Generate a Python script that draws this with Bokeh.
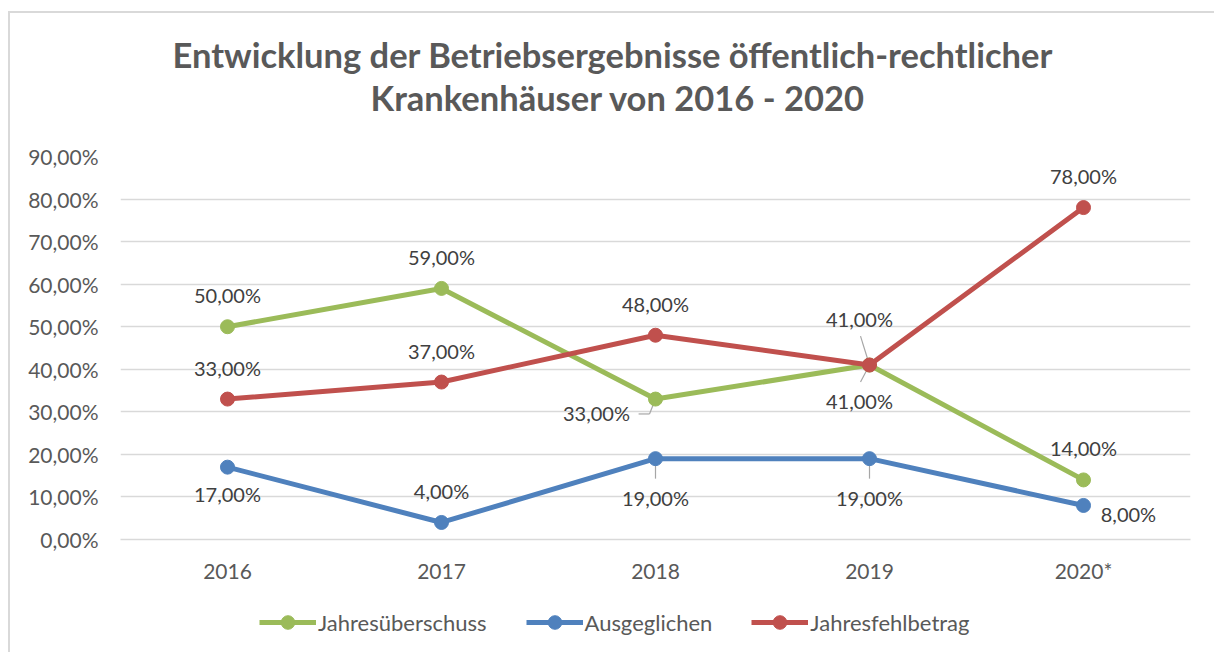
from bokeh.plotting import figure
from bokeh.models import (ColumnDataSource, FixedTicker, CustomJSTickFormatter,
                          Legend, LegendItem, Range1d, Title, Div, Spacer)
from bokeh.layouts import column, row
from bokeh.core.properties import value
from bokeh.embed import file_html
from bokeh.resources import INLINE

# ---------------- data ----------------
years = ["2016", "2017", "2018", "2019", "2020*"]
jahresueberschuss = [50, 59, 33, 41, 14]
ausgeglichen = [17, 4, 19, 19, 8]
jahresfehlbetrag = [33, 37, 48, 41, 78]
y_ticks = [0, 10, 20, 30, 40, 50, 60, 70, 80, 90]
title_line1 = "Entwicklung der Betriebsergebnisse öffentlich-rechtlicher"
title_line2 = "Krankenhäuser von 2016 - 2020"
series_names = ["Jahresüberschuss", "Ausgeglichen", "Jahresfehlbetrag"]

# ---------------- style ----------------
FONT = "Lato"
GREEN, BLUE, RED = "#9BBB59", "#4F81BD", "#C0504D"
GRID = "#d9d9d9"
TXT = "#595959"
LBL = "#404040"

lab_dx = {
    "g": [0, 0, -0.276, -0.047, 0],
    "b": [0, 0, 0, 0, 0.21],
    "r": [0, 0, 0, -0.047, 0],
}
lab_dy = {
    "g": [7.4, 7.4, -3.3, -8.5, 7.4],
    "b": [-6.4, 7.4, -9.2, -9.2, -2.0],
    "r": [7.4, 7.4, 7.4, 10.8, 7.4],
}

PW = 1204           # main figure width (placed at x=10)
PH = 587            # main figure height (placed at y=13)
LH = 52             # legend strip height
xs = [i + 0.5 for i in range(len(years))]

p = figure(width=PW, height=PH, output_backend="svg", toolbar_location=None,
           x_range=Range1d(0, len(years)), y_range=Range1d(0, 90),
           min_border_left=110, min_border_right=24, min_border_top=143,
           min_border_bottom=61, outline_line_color=None, margin=0)

# titles: spacer (closest to frame), then line 2, outermost line 1 (p.title)
p.title.text = title_line1
p.title.align = "left"
p.title.text_font = FONT
p.title.text_font_size = "34.5px"
p.title.text_font_style = "bold"
p.title.text_color = TXT
p.title.offset = 52
p.title.standoff = 0
t_sp = Title(text=" ", text_font_size="1px", standoff=36)
p.add_layout(t_sp, "above")
t2 = Title(text=title_line2, align="left", text_font=FONT, text_font_size="34.5px",
           text_font_style="bold", text_color=TXT, offset=250, standoff=0)
p.add_layout(t2, "above")

# axes
p.xaxis.ticker = FixedTicker(ticks=xs)
p.xaxis.major_label_overrides = {x: y for x, y in zip(xs, years)}
p.xaxis.major_label_text_font = FONT
p.xaxis.major_label_text_font_size = "21px"
p.xaxis.major_label_text_color = TXT
p.xaxis.axis_line_color = GRID
p.xaxis.axis_line_width = 1.5
p.xaxis.major_tick_line_color = None
p.xaxis.minor_tick_line_color = None
p.xaxis.major_tick_out = 0
p.xaxis.major_tick_in = 0
p.xaxis.major_label_standoff = 18

p.yaxis.ticker = FixedTicker(ticks=y_ticks)
p.yaxis.formatter = CustomJSTickFormatter(code="return tick.toFixed(2).replace('.', ',') + '%';")
p.yaxis.major_label_text_font = FONT
p.yaxis.major_label_text_font_size = "21px"
p.yaxis.major_label_text_color = TXT
p.yaxis.axis_line_color = None
p.yaxis.major_tick_line_color = None
p.yaxis.minor_tick_line_color = None
p.yaxis.major_tick_out = 0
p.yaxis.major_tick_in = 0
p.yaxis.major_label_standoff = 22

p.xgrid.grid_line_color = None
p.ygrid.grid_line_color = GRID
p.ygrid.grid_line_width = 1.5

# leader lines
lead_x0 = [xs[2] - 0.079, xs[2] - 0.028, xs[3] - 0.042, xs[3] - 0.042, xs[2], xs[3]]
lead_y0 = [jahresueberschuss[2] - 3.5, jahresueberschuss[2] - 3.5,
           jahresfehlbetrag[3] + 6.8, jahresueberschuss[3] - 4.0,
           ausgeglichen[2] - 4.7, ausgeglichen[3] - 4.7]
lead_x1 = [xs[2] - 0.028, xs[2], xs[3], xs[3], xs[2], xs[3]]
lead_y1 = [jahresueberschuss[2] - 3.5, jahresueberschuss[2],
           jahresfehlbetrag[3], jahresueberschuss[3],
           ausgeglichen[2], ausgeglichen[3]]
p.segment(lead_x0, lead_y0, lead_x1, lead_y1, line_color="#a6a6a6", line_width=1.2)

series = [("g", jahresueberschuss, GREEN, series_names[0]),
          ("b", ausgeglichen, BLUE, series_names[1]),
          ("r", jahresfehlbetrag, RED, series_names[2])]

sources = []
for key, vals, col, name in series:
    src = ColumnDataSource(dict(x=xs, y=vals))
    sources.append(src)
    p.line("x", "y", source=src, line_color=col, line_width=5)
    p.scatter("x", "y", source=src, marker="circle", size=14,
              fill_color=col, line_color=col)

for key, vals, col, name in series:
    lsrc = ColumnDataSource(dict(
        x=[x + d for x, d in zip(xs, lab_dx[key])],
        y=[v + d for v, d in zip(vals, lab_dy[key])],
        t=[("%.2f" % v).replace(".", ",") + "%" for v in vals]))
    p.text("x", "y", text="t", source=lsrc, text_font=value(FONT),
           text_font_size="20px", text_color=LBL, text_align="center",
           text_baseline="middle")

# legend strip (separate figure below the chart; series drawn outside its range
# so only the legend glyphs show)
lf = figure(width=PW, height=LH, output_backend="svg", toolbar_location=None,
            x_range=Range1d(0, 1), y_range=Range1d(-2, -1),
            x_axis_location=None, y_axis_location=None,
            min_border=0, outline_line_color=None, margin=0)
lf.xgrid.grid_line_color = None
lf.ygrid.grid_line_color = None
items = []
for (key, vals, col, name), src in zip(series, sources):
    l = lf.line("x", "y", source=src, line_color=col, line_width=5)
    s = lf.scatter("x", "y", source=src, marker="circle", size=14,
                   fill_color=col, line_color=col)
    items.append(LegendItem(label=name, renderers=[l, s]))
legend = Legend(items=items, orientation="horizontal", location=(139, 13),
                label_text_font=FONT, label_text_font_size="22px",
                label_text_color=TXT, glyph_width=57, glyph_height=34,
                label_standoff=2, spacing=39, border_line_color=None,
                background_fill_alpha=0, padding=0, margin=0)
lf.add_layout(legend, "center")

# chart area border (left and top lines)
top_line = Div(width=PW, height=2, styles={"background-color": GRID}, margin=0)
left_line = Div(width=2, height=2 + PH + LH, styles={"background-color": GRID}, margin=0)
inner = column(top_line, p, lf, spacing=0, margin=0)
layout = column(Spacer(width=1214, height=11, margin=0),
                row(Spacer(width=8, height=2 + PH + LH, margin=0), left_line, inner,
                    spacing=0, margin=0),
                spacing=0, margin=0)

open("out.html", "w").write(file_html(layout, INLINE))
